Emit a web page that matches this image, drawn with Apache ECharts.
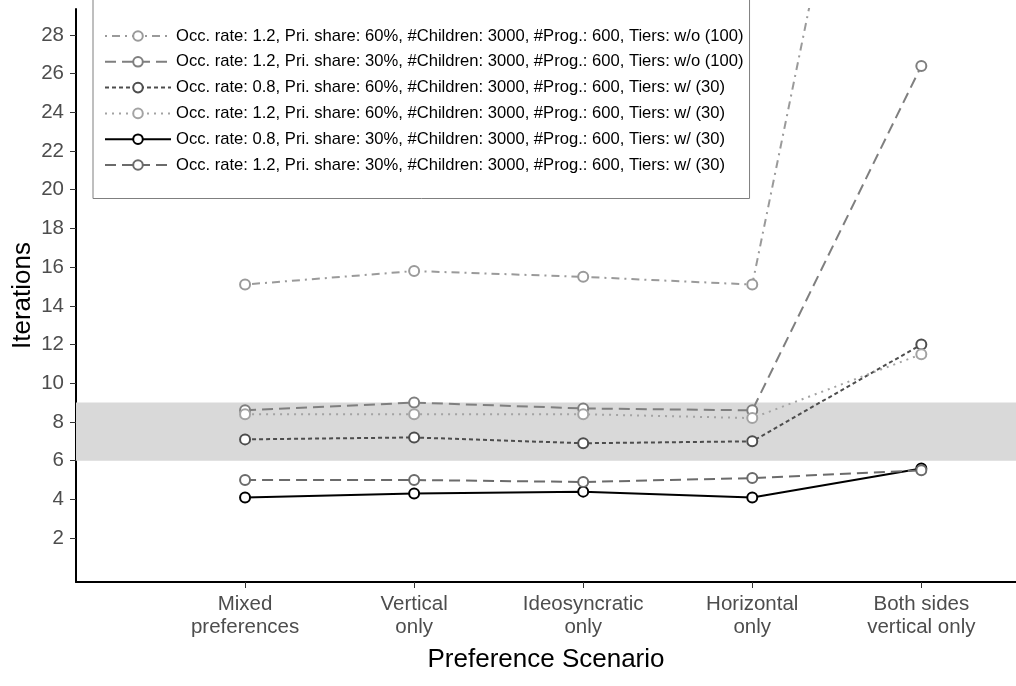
<!DOCTYPE html>
<html>
<head>
<meta charset="utf-8">
<script src="https://cdn.jsdelivr.net/npm/echarts@6/dist/echarts.min.js"></script>
<style>html,body{margin:0;padding:0;background:#fff;}#c{width:1016px;height:686px;}</style>
</head>
<body>
<div id="c"></div>
<script>
// ---- data ----
const categories = ['Mixed\npreferences', 'Vertical\nonly', 'Ideosyncratic\nonly', 'Horizontal\nonly', 'Both sides\nvertical only'];
const seriesNames = [
  'Occ. rate: 1.2, Pri. share: 60%, #Children: 3000, #Prog.: 600, Tiers: w/o (100)',
  'Occ. rate: 1.2, Pri. share: 30%, #Children: 3000, #Prog.: 600, Tiers: w/o (100)',
  'Occ. rate: 0.8, Pri. share: 60%, #Children: 3000, #Prog.: 600, Tiers: w/ (30)',
  'Occ. rate: 1.2, Pri. share: 60%, #Children: 3000, #Prog.: 600, Tiers: w/ (30)',
  'Occ. rate: 0.8, Pri. share: 30%, #Children: 3000, #Prog.: 600, Tiers: w/ (30)',
  'Occ. rate: 1.2, Pri. share: 30%, #Children: 3000, #Prog.: 600, Tiers: w/ (30)'
];
const occ12pri60wo = [15.1, 15.8, 15.5, 15.1, 57.6];
const occ12pri30wo = [8.6, 9.0, 8.7, 8.6, 26.4];
const occ08pri60w  = [7.1, 7.2, 6.9, 7.0, 12.0];
const occ12pri60w  = [8.4, 8.4, 8.4, 8.2, 11.5];
const occ08pri30w  = [4.1, 4.3, 4.4, 4.1, 5.6];
const occ12pri30w  = [5.0, 5.0, 4.9, 5.1, 5.5];
const yTicks = [2, 4, 6, 8, 10, 12, 14, 16, 18, 20, 22, 24, 26, 28];
const xTicks = [0, 1, 2, 3, 4];
const band = [6, 9];

// ---- styles ----
const FONT = 'Liberation Sans, Arial, sans-serif';
const styles = [
  {color: '#9a9a9a', type: [2, 5, 8, 5], width: 2},
  {color: '#7f7f7f', type: [11, 6], width: 2},
  {color: '#4d4d4d', type: [4, 3], width: 2},
  {color: '#a3a3a3', type: [2, 5], width: 2},
  {color: '#000000', type: 'solid', width: 2},
  {color: '#6b6b6b', type: [11, 6], width: 2}
];
const values = [occ12pri60wo, occ12pri30wo, occ08pri60w, occ12pri60w, occ08pri30w, occ12pri30w];

const series = values.map((vals, i) => ({
  name: seriesNames[i],
  type: 'line',
  data: vals.map((v, j) => [j, v]),
  symbol: 'emptyCircle',
  symbolSize: 10,
  showSymbol: true,
  clip: true,
  z: 3,
  lineStyle: {color: styles[i].color, type: styles[i].type, width: styles[i].width, cap: 'butt'},
  itemStyle: {color: styles[i].color, borderColor: styles[i].color, borderWidth: 1.5},
  emphasis: {disabled: true},
  animation: false
}));
series.unshift({
  name: 'band',
  type: 'line',
  data: [],
  z: 1,
  silent: true,
  animation: false,
  markArea: {
    silent: true,
    itemStyle: {color: '#d9d9d9'},
    data: [[{yAxis: band[0]}, {yAxis: band[1]}]]
  }
});

const chart = echarts.init(document.getElementById('c'), null, {renderer: 'canvas'});
chart.setOption({
  backgroundColor: '#ffffff',
  animation: false,
  textStyle: {fontFamily: FONT},
  grid: {left: 76, top: 9, right: 0, height: 573, containLabel: false, outerBoundsMode: 'none'},
  xAxis: {
    type: 'value',
    min: -1,
    max: 4.56,
    splitLine: {show: false},
    axisLine: {show: true, onZero: false, lineStyle: {color: '#000', width: 2}},
    axisTick: {show: true, customValues: xTicks, length: 6, lineStyle: {color: '#333', width: 1}},
    axisLabel: {
      customValues: xTicks,
      formatter: v => categories[v] || '',
      color: '#4d4d4d', fontSize: 20.5, lineHeight: 23, margin: 11,
      fontFamily: FONT
    }
  },
  yAxis: {
    type: 'value',
    min: -0.27,
    max: 29.34,
    name: 'Iterations',
    nameLocation: 'middle',
    nameRotate: 90,
    nameGap: 40,
    nameMoveOverlap: false,
    nameTextStyle: {color: '#000', fontSize: 26, fontFamily: FONT},
    splitLine: {show: false},
    axisLine: {show: true, onZero: false, lineStyle: {color: '#000', width: 2}},
    axisTick: {show: true, customValues: yTicks, length: 6, lineStyle: {color: '#333', width: 1}},
    axisLabel: {customValues: yTicks, color: '#4d4d4d', fontSize: 20.5, margin: 12, fontFamily: FONT}
  },
  legend: {
    data: seriesNames,
    orient: 'vertical',
    left: 93,
    top: -12,
    padding: [39.5, 6, 25, 11],
    itemWidth: 66,
    itemHeight: 12,
    itemGap: 8.8,
    backgroundColor: '#ffffff',
    borderColor: '#7f7f7f',
    borderWidth: 1,
    selectedMode: false,
    textStyle: {color: '#000', fontSize: 16.6, fontFamily: FONT}
  },
  graphic: [{
    type: 'text',
    x: 546,
    y: 660,
    style: {text: 'Preference Scenario', fill: '#000', fontSize: 26, fontFamily: FONT, align: 'center', verticalAlign: 'middle'}
  }],
  series: series
});
</script>
</body>
</html>
